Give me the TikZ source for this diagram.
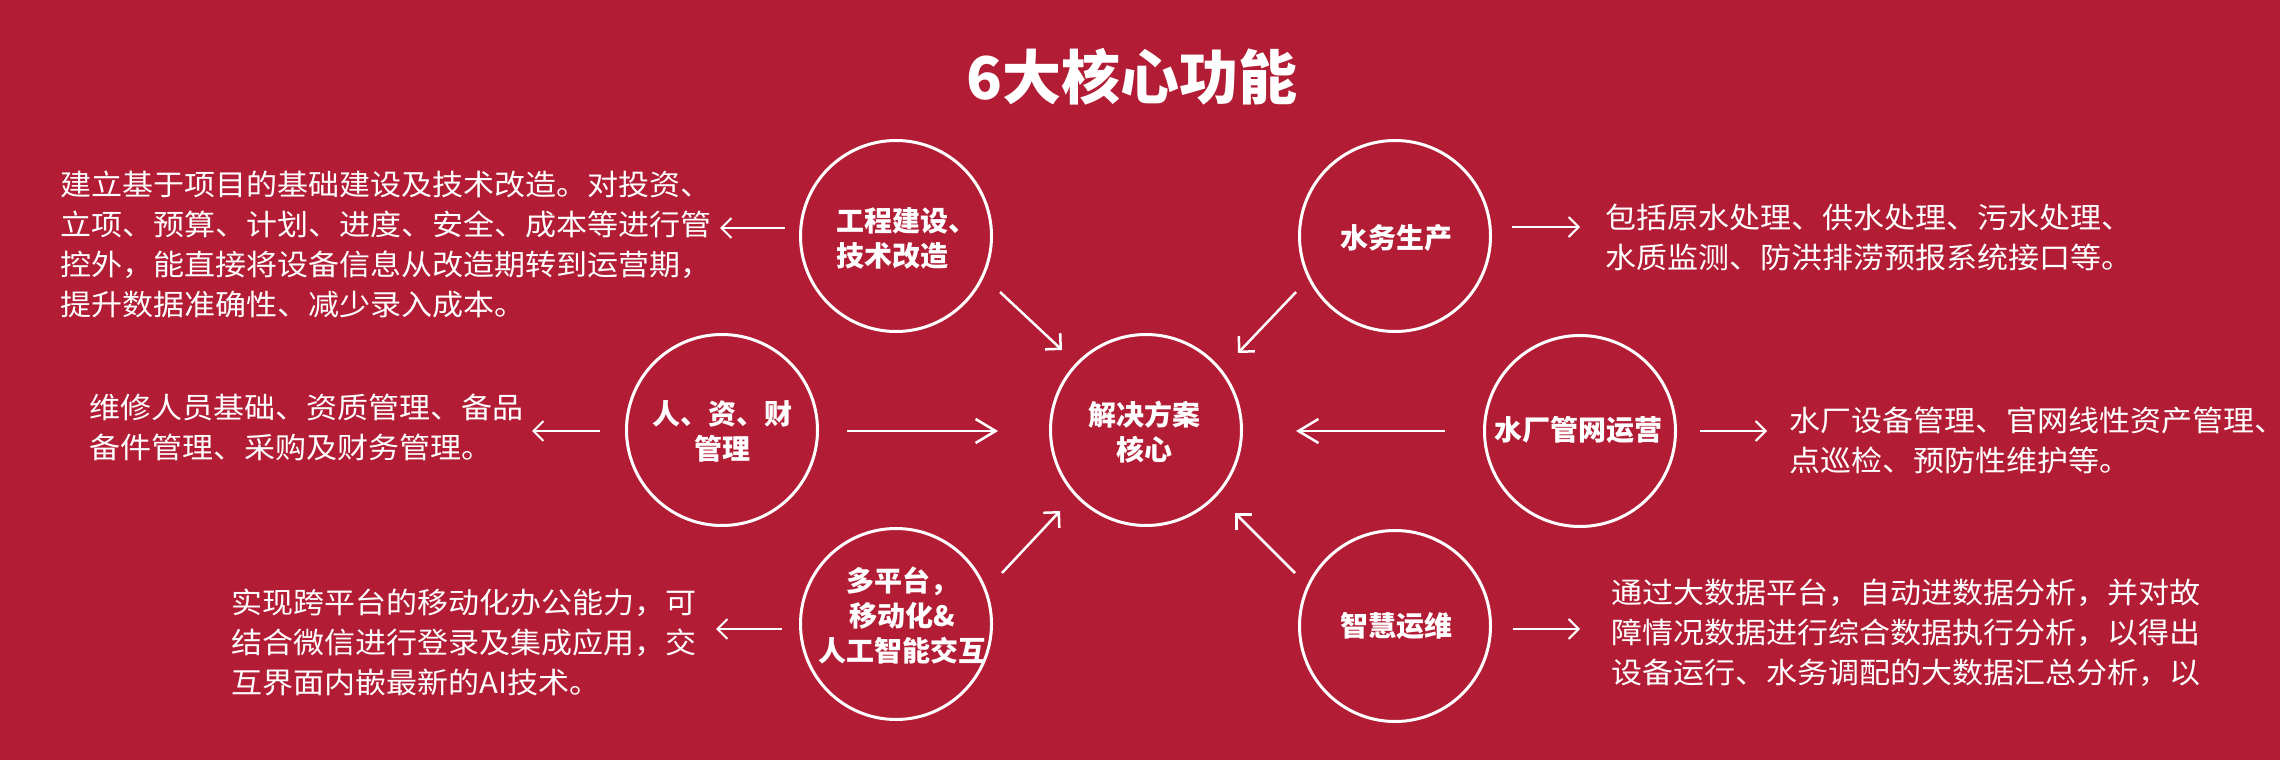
\documentclass[tikz,border=0pt]{standalone}
\usepackage{fontspec}
\usetikzlibrary{arrows.meta,calc}
\newfontfamily\cjk{Noto Sans CJK SC}
\newfontfamily\cjkd[FakeStretch=1.07]{Noto Sans CJK SC}
\definecolor{bgred}{RGB}{178,28,52}
\tikzset{
  ring/.style={circle, draw=white, line width=3pt, minimum size=191pt, inner sep=0pt},
  lbl/.style={text=white, font=\cjk\bfseries\fontsize{28}{35}\selectfont, inner sep=0pt},
  desc/.style={text=white, font=\cjkd\fontsize{29}{40}\selectfont, align=left, inner sep=0pt, anchor=west},
  sm/.style={draw=white, line width=2pt, -{Straight Barb[length=10pt,width=20pt]}},
  bigarr/.style={draw=white, line width=2.5pt, -{Straight Barb[length=20pt,width=24pt]}},
  diag/.style={draw=white, line width=2.5pt, -{Straight Barb[length=11pt,width=22pt]}},
}
\begin{document}
\begin{tikzpicture}[x=1pt,y=-1pt]
\fill[bgred] (0,0) rectangle (2280,760);
\useasboundingbox (0,0) rectangle (2280,760);

\node[text=white, font=\cjk\bfseries\fontsize{59}{70}\selectfont, inner sep=0pt] (title) at (1132,77) {6大核心功能};

% circles
\node[ring] (a) at (896,236) {};
\node[ring] (b) at (1395,236) {};
\node[ring] (c) at (722,430) {};
\node[ring] (o) at (1146,430) {};
\node[ring] (d) at (1580,431) {};
\node[ring] (e) at (896,624) {};
\node[ring] (f) at (1395,626) {};

% circle labels
\node[lbl, align=left, anchor=west] (al) at (836,238) {工程建设、\\技术改造};
\node[lbl] (bl) at (1396,238) {水务生产};
\node[lbl, align=center] (cl) at (722,431) {人、资、财\\管理};
\node[lbl, align=center] (ol) at (1144,432) {解决方案\\核心};
\node[lbl] (dl) at (1578,430) {水厂管网运营};
\node[lbl, align=center] (el) at (902,616) {多平台，\\移动化\&\\人工智能交互};
\node[lbl] (fl) at (1396,626) {智慧运维};

% descriptions
\node[desc] (t1) at (60,244) {建立基于项目的基础建设及技术改造。对投资、\\立项、预算、计划、进度、安全、成本等进行管\\控外，能直接将设备信息从改造期转到运营期，\\提升数据准确性、减少录入成本。};
\node[desc] (t2) at (1605,237) {包括原水处理、供水处理、污水处理、\\水质监测、防洪排涝预报系统接口等。};
\node[desc] (t3) at (89,427) {维修人员基础、资质管理、备品\\备件管理、采购及财务管理。};
\node[desc] (t4) at (1789,440) {水厂设备管理、官网线性资产管理、\\点巡检、预防性维护等。};
\node[desc] (t5) at (231,642) {实现跨平台的移动化办公能力，可\\结合微信进行登录及集成应用，交\\互界面内嵌最新的AI技术。};
\node[desc] (t6) at (1611,633) {通过大数据平台，自动进数据分析，并对故\\障情况数据进行综合数据执行分析，以得出\\设备运行、水务调配的大数据汇总分析，以};

% connector end points
\coordinate (a1) at ($(a)+(-111,-8)$);
\coordinate (a2) at ($(a)+(-176,-8)$);
\coordinate (b1) at ($(b)+(117,-9)$);
\coordinate (b2) at ($(b)+(185,-9)$);
\coordinate (c1) at ($(c)+(-122,1)$);
\coordinate (c2) at ($(c)+(-190,1)$);
\coordinate (c3) at ($(c)+(125,1)$);
\coordinate (oc) at ($(o)+(-148,1)$);
\coordinate (d1) at ($(d)+(-135,0)$);
\coordinate (od) at ($(o)+(150,1)$);
\coordinate (d2) at ($(d)+(120,0)$);
\coordinate (d3) at ($(d)+(187,0)$);
\coordinate (e1) at ($(e)+(-114,5)$);
\coordinate (e2) at ($(e)+(-180,5)$);
\coordinate (f1) at ($(f)+(118,3)$);
\coordinate (f2) at ($(f)+(185,3)$);
\coordinate (a3) at ($(a)+(104,56)$);
\coordinate (oa) at ($(o)+(-84,-80)$);
\coordinate (b3) at ($(b)+(-99,56)$);
\coordinate (ob) at ($(o)+(92,-77)$);
\coordinate (e3) at ($(e)+(106,-51)$);
\coordinate (oe) at ($(o)+(-86,81)$);
\coordinate (f3) at ($(f)+(-100,-53)$);
\coordinate (of) at ($(o)+(89,83)$);

% connectors
\draw[sm] (a1) -- (a2);
\draw[sm] (b1) -- (b2);
\draw[sm] (c1) -- (c2);
\draw[bigarr] (c3) -- (oc);
\draw[bigarr] (d1) -- (od);
\draw[sm] (d2) -- (d3);
\draw[sm] (e1) -- (e2);
\draw[sm] (f1) -- (f2);
\draw[diag] (a3) -- (oa);
\draw[diag] (b3) -- (ob);
\draw[diag] (e3) -- (oe);
\draw[diag] (f3) -- (of);
\end{tikzpicture}
\end{document}
